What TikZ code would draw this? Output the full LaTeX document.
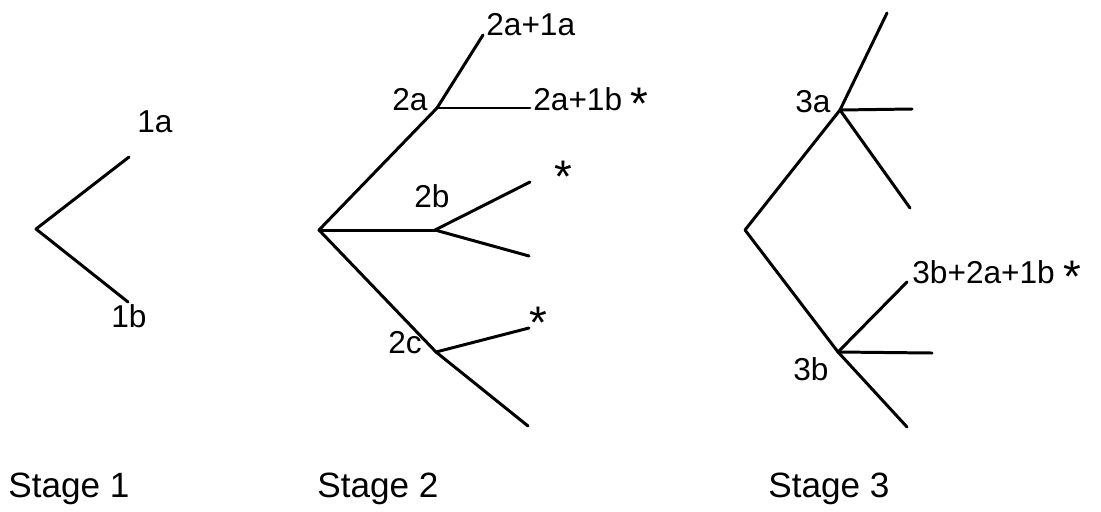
\documentclass[tikz,border=0pt]{standalone}
\usepackage{fontspec}
\setmainfont{Liberation Sans}
\usetikzlibrary{positioning}
% a larger asterisk, top aligned with the digits
\newcommand\starmark{\raisebox{-5.5pt}{\fontsize{26}{26}\selectfont *}}

\begin{document}
\begin{tikzpicture}[x=0.02cm, y=-0.02cm,
    branch/.style={line width=1.7pt, line cap=round, line join=round},
    tag/.style={anchor=base west, inner sep=0pt, font=\fontsize{18}{18}\selectfont},
    caption/.style={tag, font=\fontsize{20}{20}\selectfont}]
  % page frame, in pixels of the sketch (y runs down)
  \useasboundingbox (0,0) rectangle (1101,511);

  % Stage 1: one fork
  \coordinate (r1)  at (36,229);
  \coordinate (t1a) at (129,157);
  \coordinate (t1b) at (128,302);
  \draw[branch] (t1a) -- (r1) -- (t1b);
  \node[tag] (l1a) at (137,132) {1a};
  \node[tag] (l1b) at (111,327) {1b};

  % Stage 2: three branches, each split again
  \coordinate (r2)  at (319,230);
  \coordinate (n2a) at (437,108);
  \coordinate (n2b) at (435,230);
  \coordinate (n2c) at (436,352);
  \foreach \n in {n2a,n2b,n2c}
    \draw[branch] (r2) -- (\n);

  \coordinate (t2a1) at (483,35);
  \coordinate (t2a2) at (530,108);
  \coordinate (t2b1) at (530,182);
  \coordinate (t2b2) at (529,256);
  \coordinate (t2c1) at (529,328);
  \coordinate (t2c2) at (528,426);
  \foreach \a/\b in {n2a/t2a1, n2a/t2a2, n2b/t2b1, n2b/t2b2, n2c/t2c1, n2c/t2c2}
    \draw[branch] (\a) -- (\b);

  \node[tag] (l2a)   at (392,110) {2a};
  \node[tag] (l2a1a) at (486,35)  {2a+1a};
  \node[tag] (l2a1b) at (533,110) {2a+1b \starmark};
  \node[tag] (l2b)   at (414,207) {2b};
  \node[tag] (s2b)   at (554,183) {\starmark};
  \node[tag] (l2c)   at (388,353) {2c};
  \node[tag] (s2c)   at (529,329) {\starmark};

  % Stage 3: two branches, three tips each
  \coordinate (r3)  at (745,230);
  \coordinate (n3a) at (840,110);
  \coordinate (n3b) at (838,352);
  \draw[branch] (n3a) -- (r3) -- (n3b);

  \coordinate (t3a1) at (887,13);
  \coordinate (t3a2) at (912,109);
  \coordinate (t3a3) at (910,208);
  \coordinate (t3b1) at (907,282);
  \coordinate (t3b2) at (932,353);
  \coordinate (t3b3) at (907,427);
  \foreach \k in {1,2,3} {
    \draw[branch] (n3a) -- (t3a\k);
    \draw[branch] (n3b) -- (t3b\k);
  }

  \node[tag] (l3a)  at (795,112) {3a};
  \node[tag] (l3b1) at (912,283) {3b+2a+1b \starmark};
  \node[tag] (l3b)  at (793,380) {3b};

  % stage captions
  \node[caption] (cap1) at (8,497)   {Stage 1};
  \node[caption] (cap2) at (317,497) {Stage 2};
  \node[caption] (cap3) at (768,497) {Stage 3};
\end{tikzpicture}
\end{document}
